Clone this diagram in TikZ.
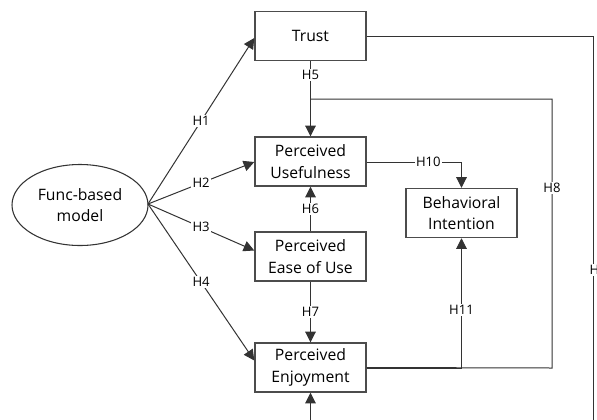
\documentclass[tikz,border=0pt]{standalone}
\usepackage{fontspec}
\setmainfont{Open Sans}
\usetikzlibrary{arrows.meta,calc,shapes.geometric}
\begin{document}
\begin{tikzpicture}[x=0.75pt,y=-0.75pt,
  box/.style={draw=black!70,line width=1.1pt,fill=white,minimum width=111*0.75pt,minimum height=49*0.75pt,inner sep=0pt,align=center,font=\fontsize{11.8}{16}\selectfont},
  conn/.style={draw=black!80,line width=0.75pt},
  arr/.style={conn,-{Triangle[length=8pt,width=8pt]}},
  lab/.style={fill=white,inner sep=1pt,font=\fontsize{9.8}{11}\selectfont}]
\useasboundingbox (0,0) rectangle (597,419);
\node[box] (trust) at (310.5,36) {Trust};
\node[box] (use) at (310.5,161.5) {Perceived\\Usefulness};
\node[box] (ease) at (310.5,256.5) {Perceived\\Ease of Use};
\node[box] (enj) at (310.5,367.5) {Perceived\\Enjoyment};
\node[box] (bi) at (461.5,213) {Behavioral\\Intention};
\node[draw=black!80,line width=0.8pt,ellipse,minimum width=136*0.75pt,minimum height=81*0.75pt,inner sep=0pt,align=center,font=\fontsize{11.8}{16}\selectfont] (fm) at (80,205) {Func-based\\model};
\coordinate (o) at (148,204);
% H1-H4
\draw[arr] (o) -- node[lab]{H1} ($(trust.west)+(0,2)$);
\draw[arr] (o) -- node[lab]{H2} ($(use.west)+(0,0.5)$);
\draw[arr] (o) -- node[lab]{H3} ($(ease.west)+(0,-6)$);
\draw[arr] (o) -- node[lab]{H4} ($(enj.west)+(0,-7)$);
% H5
\draw[arr] (trust.south) -- node[lab,pos=0.18]{H5} (use.north);
% H6, H7
\draw[arr] (ease.north) -- node[lab]{H6} (use.south);
\draw[arr] (ease.south) -- node[lab]{H7} (enj.north);
% H8
\coordinate (h8a) at (552,368);
\coordinate (h8b) at (552,99);
\coordinate (h8c) at (310.5,99);
\draw[conn] (enj.east) -- (h8a) -- node[lab,pos=0.67]{H8} (h8b) -- (h8c);
% H10
\coordinate (h10a) at (461.5,162);
\draw[arr] ($(use.east)+(0,0.5)$) -- node[lab,pos=0.65]{H10} (h10a) -- (bi.north);
% H11
\coordinate (h11a) at (461.5,368);
\draw[arr] ($(enj.east)+(0,0.5)$) -- (h11a) -- node[lab,pos=0.45]{H11} (bi.south);
% H9
\coordinate (h9a) at (593,36);
\coordinate (h9b) at (593,440);
\coordinate (h9c) at (310.5,440);
\draw[arr] (trust.east) -- (h9a) -- node[lab,pos=0.58,anchor=west,xshift=-4pt]{H9} (h9b) -- (h9c) -- (enj.south);
\end{tikzpicture}
\end{document}
